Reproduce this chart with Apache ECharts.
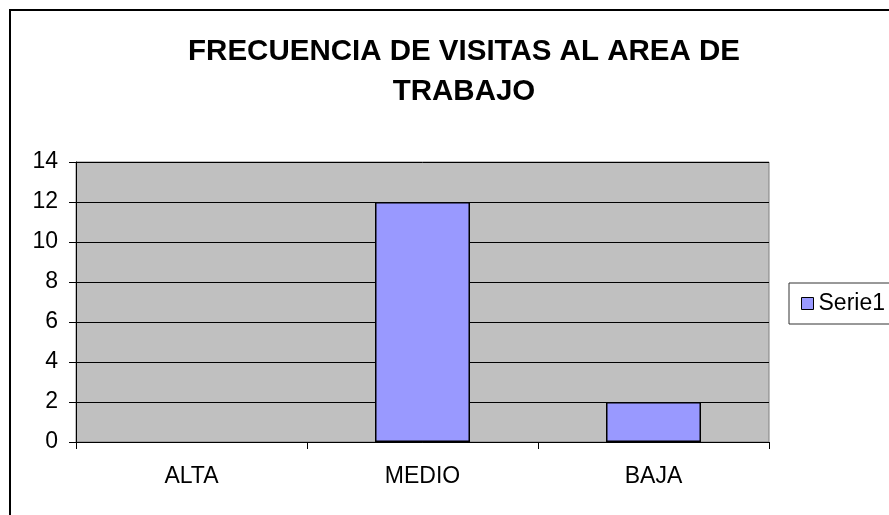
<!DOCTYPE html>
<html>
<head>
<meta charset="utf-8">
<script src="https://cdn.jsdelivr.net/npm/echarts@6/dist/echarts.min.js"></script>
<style>
html,body{margin:0;padding:0;background:#fff;}
#chart{width:889px;height:515px;}
</style>
</head>
<body>
<div id="chart"></div>
<script>
const titleText = 'FRECUENCIA DE VISITAS AL AREA DE\nTRABAJO';
const categories = ['ALTA', 'MEDIO', 'BAJA'];
const seriesName = 'Serie1';
const values = [0, 12, 2];
const yMin = 0, yMax = 14, yStep = 2;

const FONT = '"Liberation Sans", Arial, sans-serif';
const chart = echarts.init(document.getElementById('chart'), null, {renderer: 'canvas'});
chart.setOption({
  animation: false,
  backgroundColor: '#ffffff',
  title: {
    text: titleText,
    left: 459,
    top: 27,
    textAlign: 'center',
    textStyle: {fontFamily: FONT, fontSize: 29.5, fontWeight: 'bold', color: '#000', lineHeight: 40}
  },
  graphic: [{
    type: 'rect',
    shape: {x: 10, y: 10, width: 1000, height: 1000},
    style: {fill: 'none', stroke: '#000', lineWidth: 2},
    silent: true, z: 100
  }],
  legend: {
    left: 789, top: 283,
    orient: 'vertical',
    padding: [9, 30, 9, 12],
    borderColor: '#333', borderWidth: 1,
    backgroundColor: '#fff',
    itemWidth: 12, itemHeight: 12,
    icon: 'rect',
    itemStyle: {borderWidth: 1, borderColor: '#000'},
    textStyle: {fontFamily: FONT, fontSize: 23, color: '#000', lineHeight: 21},
    data: [seriesName]
  },
  grid: {
    left: 76, right: 120, top: 162, bottom: 73,
    show: true, backgroundColor: '#C0C0C0', borderColor: '#808080', borderWidth: 1
  },
  xAxis: {
    type: 'category',
    data: categories,
    axisLine: {lineStyle: {color: '#000', width: 1}},
    axisTick: {show: true, length: 7, lineStyle: {color: '#000'}},
    axisLabel: {fontFamily: FONT, fontSize: 23, color: '#000', margin: 23},
    splitLine: {show: false}
  },
  yAxis: {
    type: 'value',
    min: yMin, max: yMax, interval: yStep,
    axisLine: {show: true, lineStyle: {color: '#000', width: 1}},
    axisTick: {show: true, length: 7, lineStyle: {color: '#000'}},
    axisLabel: {fontFamily: FONT, fontSize: 23, color: '#000', margin: 18},
    splitLine: {show: true, lineStyle: {color: '#000', width: 1}}
  },
  series: [{
    name: seriesName,
    type: 'bar',
    data: values.map(v => v === 0 ? {value: v, itemStyle: {borderWidth: 0}} : v),
    barWidth: 95,
    itemStyle: {color: '#9999FF', borderColor: '#000', borderWidth: 1.5}
  }]
});
</script>
</body>
</html>
